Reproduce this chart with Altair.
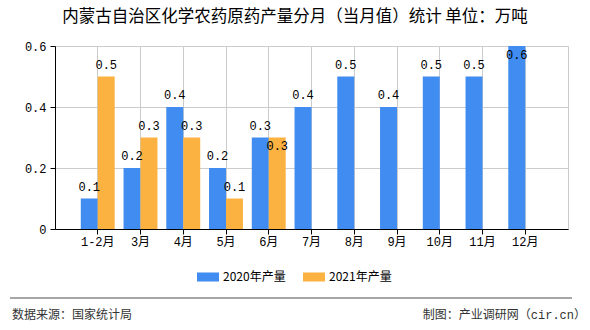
import altair as alt
import pandas as pd

months = ["1-2月", "3月", "4月", "5月", "6月", "7月", "8月", "9月", "10月", "11月", "12月"]
series = ["2020年产量", "2021年产量"]
v2020 = [0.1, 0.2, 0.4, 0.2, 0.3, 0.4, 0.5, 0.4, 0.5, 0.5, 0.6]
v2021 = [0.5, 0.3, 0.3, 0.1, 0.3, None, None, None, None, None, None]
inside_labels = [("2021年产量", "6月"), ("2020年产量", "12月")]
colors = ["#418CF0", "#FCB241"]
y_ticks = [0, 0.2, 0.4, 0.6]
title_text = "内蒙古自治区化学农药原药产量分月（当月值）统计  单位：万吨"
source_text = "数据来源：国家统计局"
credit_text = "制图：产业调研网（cir.cn）"

rows = []
for s, vals in zip(series, [v2020, v2021]):
    for m, v in zip(months, vals):
        if v is not None:
            rows.append({"month": m, "series": s, "value": v,
                         "label": f"{v:.1f}", "inside": (s, m) in inside_labels})
df = pd.DataFrame(rows)

NUM_FONT = "Liberation Mono, Noto Sans CJK SC"
CJK_FONT = "Noto Sans CJK SC"

base = alt.Chart(df).encode(
    x=alt.X("month:N", sort=months,
            scale=alt.Scale(paddingInner=0, paddingOuter=0.5),
            axis=alt.Axis(title=None, labelAngle=0, bandPosition=0.5, grid=True,
                          gridColor="#cccccc", domainColor="#000000", tickColor="#000000",
                          tickSize=5, labelFont=NUM_FONT, labelFontSize=12,
                          labelColor="#000000", labelPadding=2)),
    xOffset=alt.XOffset("series:N", sort=series,
                        scale=alt.Scale(paddingInner=0, paddingOuter=0.26)),
    y=alt.Y("value:Q", scale=alt.Scale(domain=[0, 0.6], nice=False),
            axis=alt.Axis(title=None, values=y_ticks,
                          labelExpr="datum.value == 0 ? '0' : format(datum.value, '.1f')",
                          grid=True, gridColor="#cccccc", domainColor="#000000",
                          tickColor="#000000", tickSize=5, labelFont=NUM_FONT,
                          labelFontSize=12, labelColor="#000000", labelPadding=4)),
)

bars = base.mark_bar().encode(
    color=alt.Color("series:N", sort=series,
                    scale=alt.Scale(domain=series, range=colors),
                    legend=alt.Legend(title=None, orient="none", direction="horizontal",
                                      legendX=142, legendY=220, padding=0,
                                      symbolType="M-1,-0.41L1,-0.41L1,0.41L-1,0.41Z",
                                      symbolSize=484, symbolStrokeWidth=0,
                                      labelFont=CJK_FONT, labelFontSize=12,
                                      labelColor="#000000", labelOffset=4,
                                      columnPadding=17))
)

labels_out = base.transform_filter("!datum.inside").mark_text(
    dy=-12, baseline="middle", align="center", font=NUM_FONT, fontSize=12, color="#000000"
).encode(text="label:N")

labels_in = base.transform_filter("datum.inside").mark_text(
    dy=8.5, baseline="middle", align="center", font=NUM_FONT, fontSize=12, color="#000000"
).encode(text="label:N")

one = pd.DataFrame({"title": [title_text], "source": [source_text], "credit": [credit_text]})

title = alt.Chart(one).mark_text(
    font=CJK_FONT, fontSize=16.5, color="#000000", align="center", baseline="middle"
).encode(text="title:N", x=alt.value(240), y=alt.value(-29))

footer_line = alt.Chart(one).mark_rule(color="#888888", strokeWidth=1.5).encode(
    x=alt.value(-45), x2=alt.value(517), y=alt.value(252))

source = alt.Chart(one).mark_text(
    font=CJK_FONT, fontSize=12, color="#333333", align="left", baseline="middle"
).encode(text="source:N", x=alt.value(-43), y=alt.value(269))

credit = alt.Chart(one).mark_text(
    font=NUM_FONT, fontSize=12, color="#333333", align="right", baseline="middle"
).encode(text="credit:N", x=alt.value(531), y=alt.value(269))

chart = alt.layer(bars, labels_out, labels_in, title, footer_line, source, credit).properties(
    width=513, height=183,
    padding={"left": 55, "top": 46, "right": 22, "bottom": 101},
    autosize=alt.AutoSizeParams(type="none"),
    background="#ffffff",
).configure_view(stroke="#cccccc")

chart.save("out.html", embed_options={"renderer": "svg", "actions": False})
